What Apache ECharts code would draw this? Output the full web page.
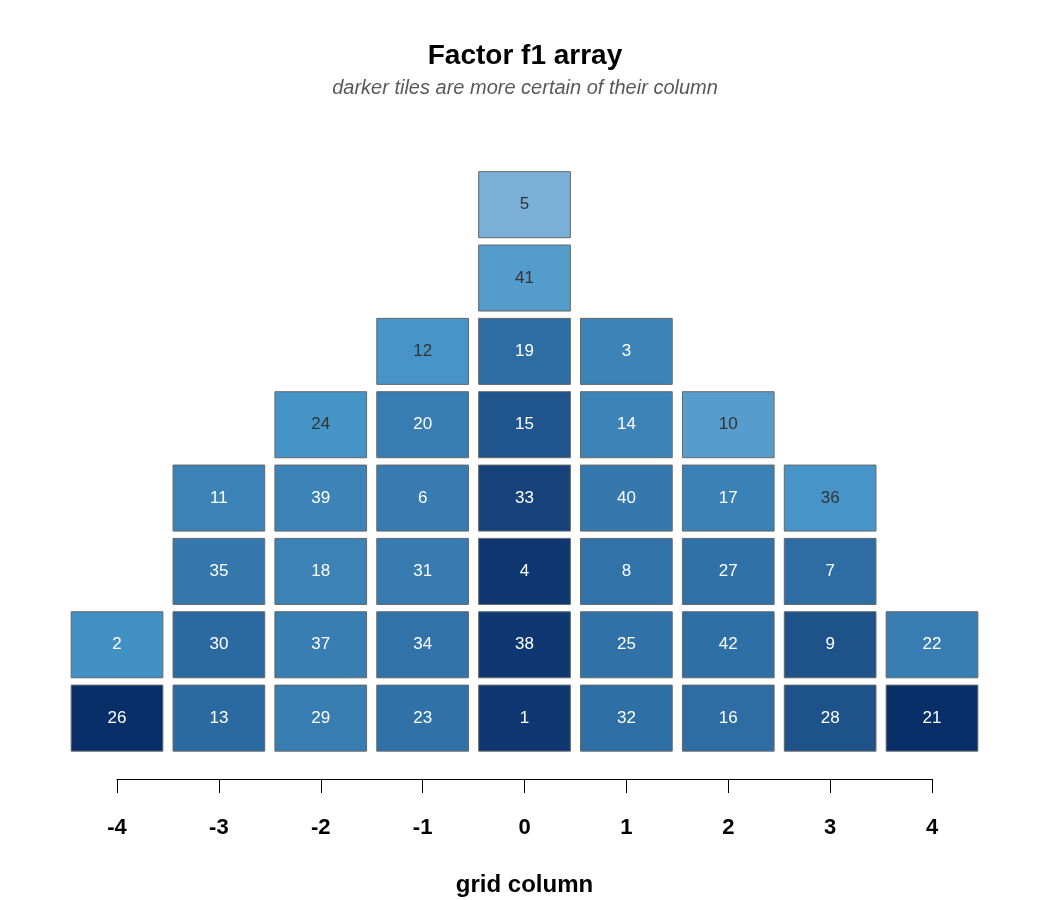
<!DOCTYPE html>
<html>
<head>
<meta charset="utf-8">
<title>Factor f1 array</title>
<script src="https://cdn.jsdelivr.net/npm/echarts@6/dist/echarts.min.js"></script>
<style>
  html, body { margin: 0; padding: 0; background: #fff; }
  #chart { width: 1050px; height: 900px; }
</style>
</head>
<body>
<div id="chart"></div>
<script>
// grid columns, left to right
const columns = [-4, -3, -2, -1, 0, 1, 2, 3, 4]

// statement ids per column, bottom tile first
const statements = [
  [26, 2],
  [13, 30, 35, 11],
  [29, 37, 18, 39, 24],
  [23, 34, 31, 6, 20, 12],
  [1, 38, 4, 33, 15, 19, 41, 5],
  [32, 25, 8, 40, 14, 3],
  [16, 42, 27, 17, 10],
  [28, 9, 7, 36],
  [21, 22]
]

const certainty = [
  [0.98, 0.29],
  [0.57, 0.57, 0.48, 0.41],
  [0.45, 0.44, 0.41, 0.40, 0.26],
  [0.52, 0.51, 0.46, 0.46, 0.45, 0.25],
  [0.86, 0.86, 0.86, 0.80, 0.69, 0.55, 0.15, 0.0],
  [0.54, 0.52, 0.51, 0.48, 0.40, 0.40],
  [0.55, 0.54, 0.52, 0.42, 0.14],
  [0.70, 0.70, 0.55, 0.25],
  [0.97, 0.45]
]

const shades = ["#7ab0d7", "#559ccc", "#4292c6", "#3a80b5", "#2b6aa0", "#1d5088", "#0f3873", "#082d66"]

// =====================
// Build tiles [column, row, certainty, id]
// =====================
const tiles = []
columns.forEach((col, i) => {
  statements[i].forEach((id, r) => {
    tiles.push([col, r + 1, certainty[i][r], id])
  })
})

const FONT = "Liberation Sans, Arial, sans-serif"

const chart = echarts.init(document.getElementById("chart"))

const option = {
  animation: false,
  backgroundColor: "#fff",

  title: [
    {
      text: "Factor f1 array",
      left: "center",
      top: 37,
      textStyle: { fontFamily: FONT, fontSize: 28, fontWeight: "bold", color: "#000" }
    },
    {
      text: "darker tiles are more certain of their column",
      left: "center",
      top: 73,
      textStyle: { fontFamily: FONT, fontSize: 20, fontStyle: "italic", fontWeight: "normal", color: "#595959" }
    }
  ],

  grid: { left: 117, right: 118, top: 168, bottom: 121, outerBoundsMode: "none", containLabel: false },

  visualMap: {
    show: false,
    type: "continuous",
    dimension: 2,
    min: 0,
    max: 1,
    inRange: { color: shades }
  },

  xAxis: {
    type: "value",
    min: -4,
    max: 4,
    interval: 1,
    splitLine: { show: false },
    axisLine: { show: true, onZero: false, lineStyle: { color: "#000", width: 1 } },
    axisTick: { show: true, length: 14, lineStyle: { color: "#000" } },
    axisLabel: {
      margin: 38,
      fontFamily: FONT,
      fontSize: 22,
      fontWeight: "bold",
      color: "#000"
    },
    name: "grid column",
    nameLocation: "middle",
    nameGap: 94,
    nameTextStyle: { fontFamily: FONT, fontSize: 24, fontWeight: "bold", color: "#000" }
  },

  yAxis: {
    type: "value",
    min: 0.17,
    max: 8.5,
    show: false
  },

  series: [{
    type: "custom",
    clip: false,
    data: tiles,
    encode: { x: 0, y: 1 },
    renderItem: (params, api) => {
      const c = api.coord([api.value(0), api.value(1)])
      const s = api.size([0.9, 0.9])
      const light = api.value(2) < 0.27
      return {
        type: "group",
        children: [
          {
            type: "rect",
            shape: { x: c[0] - s[0] / 2, y: c[1] - s[1] / 2, width: s[0], height: s[1] },
            style: { fill: api.visual("color"), stroke: "#666666", lineWidth: 1 }
          },
          {
            type: "text",
            x: c[0],
            y: c[1],
            style: {
              text: String(api.value(3)),
              fill: light ? "#333333" : "#ffffff",
              font: `17px ${FONT}`,
              align: "center",
              verticalAlign: "middle"
            }
          }
        ]
      }
    }
  }]
}

chart.setOption(option)
</script>
</body>
</html>
